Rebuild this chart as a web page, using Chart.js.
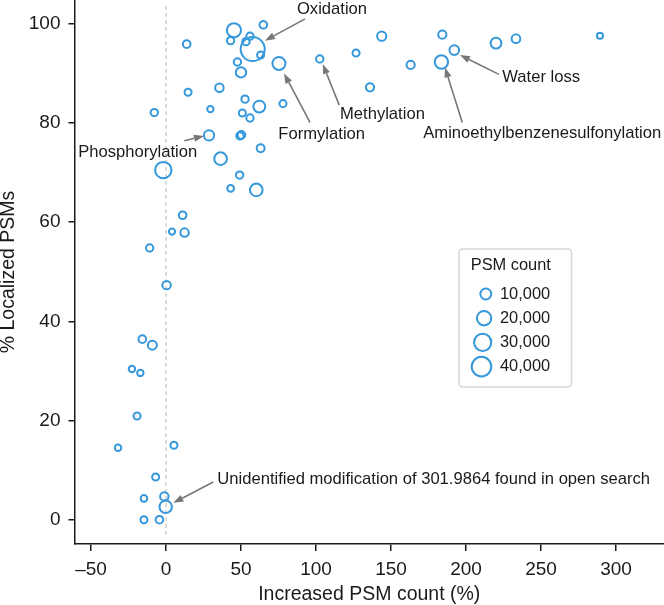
<!DOCTYPE html>
<html>
<head>
<meta charset="utf-8">
<script src="https://cdn.jsdelivr.net/npm/chart.js@4.4.1/dist/chart.umd.min.js"></script>
<style>
  html, body { margin: 0; padding: 0; background: #fff; }
  #wrap { width: 664px; height: 605px; }
</style>
</head>
<body>
<div id="wrap"><canvas id="c" width="664" height="605"></canvas></div>
<script>
// ---- Data ----
const increasedPsm = [45.3, 64.9, 56, 43.1, 53.3, 13.8, 57.8, 63.1, 47.6, 75.3, 102.5, 126.7, 50, 35.6, 14.7, 52.7, 62.2, 78, -7.8, 29.6, 50.9, 56, 28.7, 49.3, 50.3, 63.1, 36.4, -1.8, 49.1, 43.1, 60.2, 143.8, 184.2, 163.1, 136, 183.6, 192.2, 220, 233.3, 289.3, 11.1, 4, 12.4, -10.9, 0.4, -15.8, -9.1, -22.7, -17.1, -19.3, -32, 5.3, -6.9, -14.7, -1.1, -0.2, -14.7, -4.4];
const localizedPsm = [98.7, 99.8, 97.5, 96.6, 96.4, 95.9, 94.9, 93.7, 92.3, 92.0, 92.9, 94.1, 90.2, 87.1, 86.2, 84.8, 83.3, 83.9, 82.1, 82.8, 82.0, 81.0, 77.5, 77.4, 77.6, 74.9, 72.8, 70.5, 69.5, 66.8, 66.5, 97.5, 97.8, 91.7, 87.2, 92.3, 94.7, 96.1, 97.0, 97.6, 61.4, 58.1, 57.9, 54.8, 47.3, 36.4, 35.2, 30.4, 29.6, 20.9, 14.5, 15.0, 8.6, 4.3, 4.7, 2.6, 0, 0];
const psmCount = [19000, 3000, 2500, 2500, 2500, 3000, 62000, 2000, 2500, 15500, 2500, 2000, 8500, 4500, 2000, 2500, 12500, 2000, 2500, 1000, 2000, 2500, 8000, 2500, 3000, 3500, 14500, 27000, 2500, 1500, 14500, 6000, 4000, 4000, 4000, 16500, 7000, 9500, 5000, 600, 3000, 800, 4500, 2500, 4500, 3000, 5500, 1000, 1000, 2000, 1200, 2000, 2000, 1200, 4500, 14000, 2000, 3000];

const xTicks = [-50, 0, 50, 100, 150, 200, 250, 300];
const yTicks = [0, 20, 40, 60, 80, 100];
const legendCounts = [10000, 20000, 30000, 40000];
const legendLabels = ['10,000', '20,000', '30,000', '40,000'];

// Annotations: label text, text anchor (data units), arrow from -> to (data units)
const annotLabels = ['Oxidation', 'Formylation', 'Methylation', 'Aminoethylbenzenesulfonylation', 'Water loss', 'Phosphorylation', 'Unidentified modification of 301.9864 found in open search'];
const annotTextX = [87.3, 74.9, 116, 171.5, 224.2, -58.5, 34.2];
const annotTextY = [103.0, 77.6, 81.8, 77.9, 89.1, 74.0, 8.2];
const arrowFromX = [92.7, 96, 115.5, 197.5, 222, 12.2, 31.5];
const arrowFromY = [101, 80.1, 83.6, 80.1, 89.8, 76.4, 7.6];
const arrowToX = [66, 78.7, 104.5, 186, 196, 25.3, 4.9];
const arrowToY = [96.6, 90.0, 91.9, 91.2, 93.7, 77.4, 3.4];

// ---- Styling ----
const BLUE = '#3498db';
const FONT = '"Liberation Sans", Arial, Helvetica, sans-serif';
function radiusFor(count) { return Math.sqrt(8 + 0.0022 * count); }

const points = increasedPsm.map((x, i) => ({ x: x, y: localizedPsm[i], n: psmCount[i] }));

const zeroLinePlugin = {
  id: 'zeroLine',
  beforeDatasetsDraw(chart) {
    const { ctx, chartArea, scales } = chart;
    const x0 = scales.x.getPixelForValue(0);
    ctx.save();
    ctx.strokeStyle = '#c8c8c8';
    ctx.lineWidth = 1.3;
    ctx.setLineDash([4, 3]);
    ctx.beginPath();
    ctx.moveTo(x0, chartArea.top + 6);
    ctx.lineTo(x0, chartArea.bottom - 6);
    ctx.stroke();
    ctx.restore();
  }
};

const annotationPlugin = {
  id: 'annots',
  afterDatasetsDraw(chart) {
    const { ctx, scales } = chart;
    const sx = scales.x, sy = scales.y;
    ctx.save();
    for (let i = 0; i < annotLabels.length; i++) {
      const x1 = sx.getPixelForValue(arrowFromX[i]), y1 = sy.getPixelForValue(arrowFromY[i]);
      const x2 = sx.getPixelForValue(arrowToX[i]), y2 = sy.getPixelForValue(arrowToY[i]);
      const ang = Math.atan2(y2 - y1, x2 - x1);
      const headLen = 10, headW = 3.6;
      const bx = x2 - headLen * Math.cos(ang), by = y2 - headLen * Math.sin(ang);
      ctx.strokeStyle = '#777777';
      ctx.fillStyle = '#777777';
      ctx.lineWidth = 1.6;
      ctx.beginPath();
      ctx.moveTo(x1, y1);
      ctx.lineTo(bx, by);
      ctx.stroke();
      ctx.beginPath();
      ctx.moveTo(x2, y2);
      ctx.lineTo(bx + headW * Math.sin(ang), by - headW * Math.cos(ang));
      ctx.lineTo(bx - headW * Math.sin(ang), by + headW * Math.cos(ang));
      ctx.closePath();
      ctx.fill();
    }
    ctx.fillStyle = '#1a1a1a';
    ctx.font = '16.6px ' + FONT;
    ctx.textAlign = 'left';
    ctx.textBaseline = 'middle';
    for (let i = 0; i < annotLabels.length; i++) {
      ctx.fillText(annotLabels[i], sx.getPixelForValue(annotTextX[i]), sy.getPixelForValue(annotTextY[i]));
    }
    ctx.restore();
  }
};

const sizeLegendPlugin = {
  id: 'sizeLegend',
  afterDraw(chart) {
    const { ctx } = chart;
    const bx = 459, by = 249, bw = 112.5, bh = 138, rad = 4;
    ctx.save();
    ctx.strokeStyle = '#d8d8d8';
    ctx.lineWidth = 1.5;
    ctx.beginPath();
    ctx.moveTo(bx + rad, by);
    ctx.lineTo(bx + bw - rad, by);
    ctx.quadraticCurveTo(bx + bw, by, bx + bw, by + rad);
    ctx.lineTo(bx + bw, by + bh - rad);
    ctx.quadraticCurveTo(bx + bw, by + bh, bx + bw - rad, by + bh);
    ctx.lineTo(bx + rad, by + bh);
    ctx.quadraticCurveTo(bx, by + bh, bx, by + bh - rad);
    ctx.lineTo(bx, by + rad);
    ctx.quadraticCurveTo(bx, by, bx + rad, by);
    ctx.stroke();

    ctx.fillStyle = '#1a1a1a';
    ctx.font = '16.4px ' + FONT;
    ctx.textAlign = 'left';
    ctx.textBaseline = 'middle';
    ctx.fillText('PSM count', 470.7, 265.3);
    for (let i = 0; i < legendCounts.length; i++) {
      const cy = 294 + i * 24.2;
      const r = radiusFor(legendCounts[i]);
      const cx = 492.3 - r - 1;
      ctx.strokeStyle = BLUE;
      ctx.lineWidth = 2;
      ctx.beginPath();
      ctx.arc(cx, cy, r, 0, Math.PI * 2);
      ctx.stroke();
      ctx.fillStyle = '#1a1a1a';
      ctx.fillText(legendLabels[i], 500, cy);
    }
    ctx.restore();
  }
};

new Chart(document.getElementById('c'), {
  type: 'scatter',
  data: {
    datasets: [{
      data: points,
      backgroundColor: 'rgba(0,0,0,0)',
      borderColor: BLUE,
      borderWidth: 2,
      clip: false,
      pointRadius: ctx => radiusFor(ctx.raw ? ctx.raw.n : 0),
      pointHoverRadius: ctx => radiusFor(ctx.raw ? ctx.raw.n : 0)
    }]
  },
  plugins: [zeroLinePlugin, annotationPlugin, sizeLegendPlugin],
  options: {
    responsive: false,
    animation: false,
    devicePixelRatio: 1,
    events: [],
    layout: { padding: 0, autoPadding: false },
    plugins: { legend: { display: false }, tooltip: { enabled: false } },
    scales: {
      x: {
        type: 'linear',
        min: -61, max: 332,
        afterFit: s => { s.height = 61; s.paddingLeft = 0; s.paddingRight = 0; s.paddingTop = 0; s.paddingBottom = 0; },
        afterBuildTicks: s => { s.ticks = xTicks.map(v => ({ value: v })); },
        ticks: {
          includeBounds: false,
          color: '#1a1a1a',
          font: { family: FONT, size: 19 },
          padding: 7,
          maxRotation: 0,
          callback: v => (v < 0 ? '\u2013' + Math.abs(v) : String(v))
        },
        grid: { display: true, drawOnChartArea: false, drawTicks: true, tickLength: 7, color: '#1a1a1a', lineWidth: 1.5 },
        border: { display: true, color: '#1a1a1a', width: 1.5 },
        title: { display: true, text: 'Increased PSM count (%)', color: '#1a1a1a', font: { family: FONT, size: 19.5, lineHeight: 1.1 }, padding: { top: 0, bottom: 0 } }
      },
      y: {
        type: 'linear',
        min: -4.9, max: 104.8,
        afterFit: s => { s.width = 74.5; s.paddingLeft = 0; s.paddingRight = 0; s.paddingTop = 0; s.paddingBottom = 0; },
        afterBuildTicks: s => { s.ticks = yTicks.map(v => ({ value: v })); },
        ticks: {
          includeBounds: false,
          color: '#1a1a1a',
          font: { family: FONT, size: 19 },
          padding: 8
        },
        grid: { display: true, drawOnChartArea: false, drawTicks: true, tickLength: 6, color: '#1a1a1a', lineWidth: 1.5 },
        border: { display: true, color: '#1a1a1a', width: 1.5 },
        title: { display: true, text: '% Localized PSMs', color: '#1a1a1a', font: { family: FONT, size: 19.5, lineHeight: 1 }, padding: { top: -1, bottom: 0 } }
      }
    }
  }
});
</script>
</body>
</html>
